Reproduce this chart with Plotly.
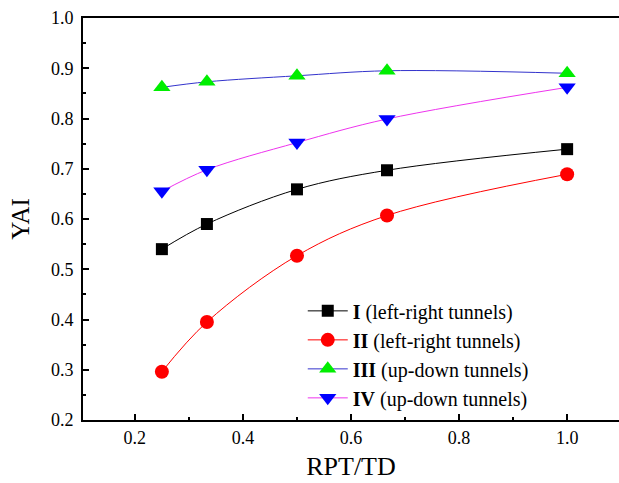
import plotly.graph_objects as go

x = [0.25, 1/3, 0.5, 2/3, 1.0]
s1 = [0.540, 0.590, 0.659, 0.697, 0.739]
s2 = [0.296, 0.395, 0.527, 0.607, 0.689]
s3 = [0.862, 0.873, 0.885, 0.895, 0.890]
s4 = [0.655, 0.698, 0.752, 0.799, 0.862]

names = ["<b>I</b> (left-right tunnels)", "<b>II</b> (left-right tunnels)",
         "<b>III</b> (up-down tunnels)", "<b>IV</b> (up-down tunnels)"]
series = [s1, s2, s3, s4]
line_colors = ["#000000", "#ff0000", "#3333cc", "#ee33ee"]
marker_colors = ["#000000", "#ff0000", "#00ee00", "#0000ff"]
symbols = ["square", "circle", "triangle-up", "triangle-down"]
sizes = [12, 14, 15, 15]

fig = go.Figure()
for nm, ys, lc, mc, sym, sz in zip(names, series, line_colors, marker_colors, symbols, sizes):
    fig.add_trace(go.Scatter(
        x=x, y=ys, name=nm, mode="lines+markers",
        line=dict(color=lc, width=1, shape="spline", smoothing=1.0),
        marker=dict(symbol=sym, size=sz, color=mc, line=dict(width=0)),
    ))

font_family = "Liberation Serif"
fig.update_layout(
    width=619, height=483,
    margin=dict(l=83, r=0, t=18, b=63),
    paper_bgcolor="white", plot_bgcolor="white",
    font=dict(family=font_family, color="black"),
    showlegend=True,
    legend=dict(x=0.41, y=0.32, xanchor="left", yanchor="top",
                font=dict(family=font_family, size=20, color="black"),
                bgcolor="rgba(0,0,0,0)", tracegroupgap=0, itemwidth=40),
)
fig.update_xaxes(
    range=[0.104, 1.096], tickvals=[0.2, 0.4, 0.6, 0.8, 1.0],
    ticktext=["0.2", "0.4", "0.6", "0.8", "1.0"],
    ticks="inside", ticklen=6, tickwidth=2, tickcolor="black",
    minor=dict(ticks="inside", ticklen=3, tickwidth=2, tickcolor="black", dtick=0.1, tick0=0.1),
    showline=True, linewidth=2, linecolor="black", mirror=True,
    showgrid=False, zeroline=False,
    tickfont=dict(family=font_family, size=18, color="black"),
    title=dict(text="RPT/TD", font=dict(family=font_family, size=26, color="black"), standoff=10),
)
fig.update_yaxes(
    range=[0.2, 1.0], tickvals=[0.2, 0.3, 0.4, 0.5, 0.6, 0.7, 0.8, 0.9, 1.0],
    ticktext=["0.2", "0.3", "0.4", "0.5", "0.6", "0.7", "0.8", "0.9", "1.0"],
    ticks="inside", ticklen=6, tickwidth=2, tickcolor="black",
    minor=dict(ticks="inside", ticklen=3, tickwidth=2, tickcolor="black", dtick=0.05, tick0=0.25),
    showline=True, linewidth=2, linecolor="black", mirror=False,
    showgrid=False, zeroline=False,
    ticklabelstandoff=4,
    tickfont=dict(family=font_family, size=18, color="black"),
    title=dict(text="YAI", font=dict(family=font_family, size=25, color="black"), standoff=14),
)
fig.write_html("out.html")
